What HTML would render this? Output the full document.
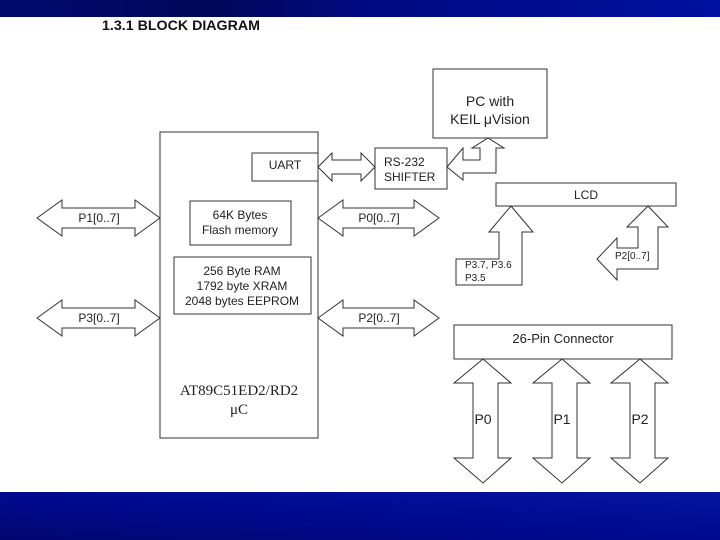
<!DOCTYPE html>
<html><head><meta charset="utf-8"><style>
body{margin:0;width:720px;height:540px;overflow:hidden;background:#fff}
svg{display:block}
</style></head><body>
<svg width="720" height="540" xmlns="http://www.w3.org/2000/svg" font-family="Liberation Sans, sans-serif">
<defs>
<linearGradient id="t" x1="0" x2="1" y1="0" y2="0">
<stop offset="0" stop-color="#000a6e"/><stop offset="0.3" stop-color="#00085a"/><stop offset="0.5" stop-color="#000a80"/><stop offset="1" stop-color="#0010a0"/></linearGradient>
<linearGradient id="b" x1="0" x2="1" y1="1" y2="0">
<stop offset="0" stop-color="#000770"/><stop offset="0.5" stop-color="#000a90"/><stop offset="1" stop-color="#0614a0"/></linearGradient>
</defs>
<rect x="0" y="0" width="720" height="17" fill="url(#t)"/>
<rect x="0" y="492" width="720" height="48" fill="url(#b)"/>
<text x="102" y="30" font-size="14" font-weight="bold" fill="#111" textLength="158" lengthAdjust="spacingAndGlyphs">1.3.1 BLOCK DIAGRAM</text>
<g fill="#fff" stroke="#333" stroke-width="1">
<rect x="160" y="132" width="158" height="306"/>
<rect x="252" y="153" width="66" height="28"/>
<rect x="190" y="201" width="101" height="44"/>
<rect x="174" y="257" width="137" height="57"/>
<rect x="375" y="148" width="72" height="41"/>
<rect x="433" y="69" width="114" height="69"/>
<rect x="496" y="183" width="180" height="23"/>
<rect x="454" y="325" width="218" height="34"/>
<polygon points="318,167 332,153 332,160 361,160 361,153 375,167 361,181 361,174 332,174 332,181"/>
<polygon points="37,218 62,200 62,208 135,208 135,200 160,218 135,236 135,228 62,228 62,236"/>
<polygon points="37,318 62,300 62,308 135,308 135,300 160,318 135,336 135,328 62,328 62,336"/>
<polygon points="318,218 343,200 343,208 414,208 414,200 439,218 414,236 414,228 343,228 343,236"/>
<polygon points="318,318 343,300 343,308 414,308 414,300 439,318 414,336 414,328 343,328 343,336"/>
<polygon points="447,167 463,148 463,160 480,160 480,148 472,148 488,138 504,148 496,148 496,173 463,173 463,180"/>
<polygon points="511,206 533,232 522,232 522,285 456,285 456,259 499,259 499,232 489,232"/>
<polygon points="648,206 668,227 658,227 658,269 617,269 617,280 597,259 617,238 617,248 638,248 638,227 627,227"/>
<polygon points="483,359 511,383 498,383 498,458 511,458 483,483 454,458 473,458 473,383 454,383"/>
<polygon points="562,359 590,383 577,383 577,458 590,458 562,483 533,458 552,458 552,383 533,383"/>
<polygon points="640,359 668,383 655,383 655,458 668,458 640,483 611,458 630,458 630,383 611,383"/>
</g>
<g fill="#222" font-size="12">
<text x="285" y="169" text-anchor="middle">UART</text>
<text x="240" y="219" text-anchor="middle">64K Bytes</text>
<text x="240" y="234" text-anchor="middle">Flash memory</text>
<text x="242" y="275" text-anchor="middle">256 Byte RAM</text>
<text x="242" y="290" text-anchor="middle">1792 byte XRAM</text>
<text x="242" y="305" text-anchor="middle">2048 bytes EEPROM</text>
<text x="384" y="166">RS-232</text>
<text x="384" y="181">SHIFTER</text>
<text x="490" y="106" text-anchor="middle" font-size="14">PC with</text>
<text x="490" y="124" text-anchor="middle" font-size="14">KEIL μVision</text>
<text x="586" y="199" text-anchor="middle">LCD</text>
<text x="563" y="343" text-anchor="middle" font-size="13">26-Pin Connector</text>
<text x="99" y="222" text-anchor="middle">P1[0..7]</text>
<text x="99" y="322" text-anchor="middle">P3[0..7]</text>
<text x="379" y="222" text-anchor="middle">P0[0..7]</text>
<text x="379" y="322" text-anchor="middle">P2[0..7]</text>
<text x="465" y="268" font-size="10">P3.7, P3.6</text>
<text x="465" y="281" font-size="10">P3.5</text>
<text x="615" y="259" font-size="10">P2[0..7]</text>
<text x="483" y="424" text-anchor="middle" font-size="14">P0</text>
<text x="562" y="424" text-anchor="middle" font-size="14">P1</text>
<text x="640" y="424" text-anchor="middle" font-size="14">P2</text>
<text x="239" y="395" text-anchor="middle" font-size="15" font-family="Liberation Serif, serif">AT89C51ED2/RD2</text>
<text x="239" y="414" text-anchor="middle" font-size="15" font-family="Liberation Serif, serif">μC</text>
</g>
</svg>
</body></html>
